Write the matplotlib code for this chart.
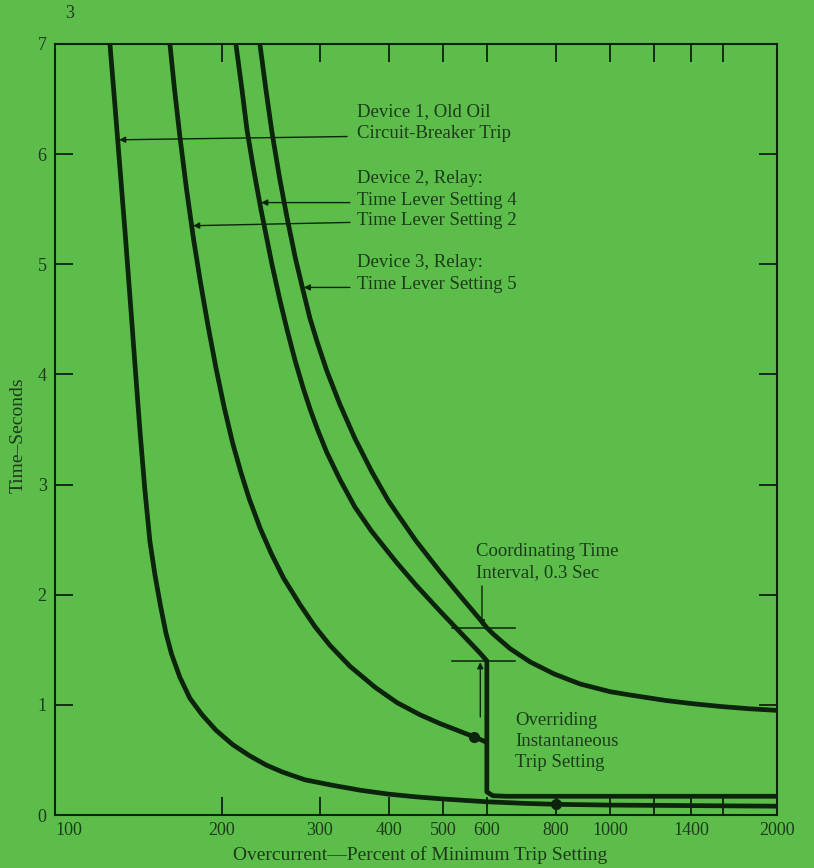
import numpy as np
import matplotlib
matplotlib.use("Agg")
import matplotlib.pyplot as plt
from matplotlib.ticker import FixedLocator, FixedFormatter, NullLocator

# ---- data: overcurrent (% of minimum trip setting) vs. operating time (s) ----
# Device 1, old oil circuit-breaker trip
dev1_current = [125.6, 128.2, 130.9, 133.7, 136.5, 139.3, 142.2, 145.2, 148.3, 151.4,
                154.9, 158.5, 162.2, 167.9, 175.0, 184.1, 195.0, 208.9, 223.9, 239.9,
                257.0, 281.8, 316.2, 354.8, 398.1, 446.7, 501.2, 600, 707.9, 800,
                1000, 1413, 2000]
dev1_time = [7.0, 6.45, 5.88, 5.30, 4.70, 4.10, 3.50, 2.95, 2.48, 2.18,
             1.90, 1.65, 1.46, 1.25, 1.06, 0.91, 0.77, 0.64, 0.54, 0.455,
             0.39, 0.32, 0.27, 0.225, 0.19, 0.165, 0.145, 0.12, 0.105, 0.097,
             0.09, 0.085, 0.08]

# Device 2 relay, time lever setting 2 (ends on the instantaneous trip line)
tls2_current = [161.1, 164.1, 167.9, 172.6, 177.8, 182.8, 188.4, 195.0, 201.8, 208.9,
                216.3, 223.9, 234.4, 245.5, 258.2, 276.4, 294.1, 313.0, 340.1, 377.3,
                413.4, 454.8, 494.0, 530.2, 568.8, 600]
tls2_time = [7.0, 6.60, 6.16, 5.68, 5.22, 4.84, 4.46, 4.06, 3.70, 3.38,
             3.11, 2.87, 2.60, 2.37, 2.15, 1.91, 1.71, 1.54, 1.35, 1.16,
             1.02, 0.91, 0.83, 0.77, 0.71, 0.66]

# Device 2 relay, time lever setting 4 (with overriding instantaneous trip at 600 %)
tls4_current = [211.8, 217.3, 221.8, 228.0, 235.0, 246.0, 254.1, 261.8, 271.0, 279.9,
                288.4, 297.2, 309.0, 325.8, 346.7, 371.5, 398.1, 413.0, 446.7, 494.3,
                537.0, 583.4, 600, 600, 615, 650, 2000]
tls4_time = [7.0, 6.58, 6.22, 5.86, 5.50, 5.00, 4.68, 4.41, 4.12, 3.88,
             3.68, 3.50, 3.29, 3.05, 2.80, 2.58, 2.39, 2.29, 2.09, 1.85,
             1.66, 1.47, 1.40, 0.21, 0.175, 0.17, 0.17]

# Device 3 relay, time lever setting 5
dev3_current = [234, 240, 246, 254, 262, 271, 280, 288, 297, 309, 326, 347, 372, 398,
                413, 447, 494, 537, 588, 600, 617, 661, 718, 794, 883, 1000, 1086,
                1259, 1413, 1585, 1778, 2000]
dev3_time = [7.0, 6.58, 6.20, 5.78, 5.42, 5.06, 4.76, 4.51, 4.29, 4.03, 3.73, 3.42,
             3.12, 2.86, 2.74, 2.49, 2.21, 1.99, 1.755, 1.70, 1.64, 1.51, 1.39,
             1.28, 1.19, 1.12, 1.09, 1.04, 1.01, 0.985, 0.965, 0.95]

instantaneous_trip = 600          # overriding instantaneous trip setting, %
coord_interval = 0.3              # coordinating time interval, s
dot_tls2 = (568.8, 0.71)
dot_dev1 = (800, 0.097)

x_tick_pos = [100, 200, 300, 400, 500, 600, 800, 1000, 1200, 1400, 1600, 2000]
x_tick_lab = ["100", "200", "300", "400", "500", "600", "800", "1000", "", "1400", "", "2000"]
y_ticks = [0, 1, 2, 3, 4, 5, 6, 7]

# ---- styling ----
BG = "#5dbd4b"
INK = "#0c230c"
TXT = "#1b3c19"
plt.rcParams["font.family"] = ["Liberation Serif", "DejaVu Serif"]

W, H = 814, 868
fig = plt.figure(figsize=(W / 100, H / 100), dpi=100)
fig.patch.set_facecolor(BG)
L, R, T, B = 55, 777, 44, 815
ax = fig.add_axes([L / W, 1 - B / H, (R - L) / W, (B - T) / H])
ax.set_facecolor(BG)
ax.set_xscale("log")
ax.set_xlim(100, 2000)
ax.set_ylim(0, 7)

for s in ax.spines.values():
    s.set_color(INK)
    s.set_linewidth(1.5)

ax.xaxis.set_major_locator(FixedLocator(x_tick_pos))
ax.xaxis.set_major_formatter(FixedFormatter(x_tick_lab))
ax.xaxis.set_minor_locator(NullLocator())
ax.set_yticks(y_ticks)
ax.set_yticklabels([str(v) for v in y_ticks])
ax.tick_params(which="both", direction="in", length=13, width=1.3, color=INK,
               top=True, right=True, labelcolor=TXT, labelsize=13)
ax.tick_params(axis="x", pad=5)
ax.tick_params(axis="y", pad=6)
# the first current label sits just right of the corner
ax.get_xticklabels()[0].set_horizontalalignment("left")

# ---- curves ----
lw = 3.4
curve_kw = dict(color=INK, lw=lw, solid_joinstyle="round", solid_capstyle="butt", zorder=3)
ax.plot(dev1_current, dev1_time, **curve_kw)
ax.plot(tls2_current, tls2_time, **curve_kw)
ax.plot(tls4_current, tls4_time, **curve_kw)
ax.plot(dev3_current, dev3_time, **curve_kw)
ax.plot(*dot_tls2, "o", color=INK, ms=7, zorder=4)
ax.plot(*dot_dev1, "o", color=INK, ms=7, zorder=4)


def x_on_curve(cur, tim, y):
    """Current at which the inverse-time part of a curve reaches time y."""
    c = np.log10(np.asarray(cur, float))
    t = np.asarray(tim, float)
    keep = t >= y - 1.0
    c, t = c[keep][:12], t[keep][:12]
    order = np.argsort(t)
    return 10 ** np.interp(y, t[order], c[order])


arrow_kw = dict(arrowstyle="-|>", color=INK, lw=1.0, mutation_scale=9,
                shrinkA=0, shrinkB=1)
label_x = 350
fs = 13.5

# Labels for each curve
ax.text(label_x, 6.39, "Device 1, Old Oil", fontsize=fs, color=TXT, va="center")
ax.text(label_x, 6.19, "Circuit-Breaker Trip", fontsize=fs, color=TXT, va="center")
ax.annotate("", xy=(x_on_curve(dev1_current, dev1_time, 6.13), 6.13),
            xytext=(336, 6.16), arrowprops=arrow_kw)

ax.text(label_x, 5.78, "Device 2, Relay:", fontsize=fs, color=TXT, va="center")
ax.text(label_x, 5.58, "Time Lever Setting 4", fontsize=fs, color=TXT, va="center")
ax.annotate("", xy=(x_on_curve(tls4_current, tls4_time, 5.56), 5.56),
            xytext=(340, 5.56), arrowprops=arrow_kw)
ax.text(label_x, 5.40, "Time Lever Setting 2", fontsize=fs, color=TXT, va="center")
ax.annotate("", xy=(x_on_curve(tls2_current, tls2_time, 5.35), 5.35),
            xytext=(340, 5.38), arrowprops=arrow_kw)

ax.text(label_x, 5.02, "Device 3, Relay:", fontsize=fs, color=TXT, va="center")
ax.text(label_x, 4.82, "Time Lever Setting 5", fontsize=fs, color=TXT, va="center")
ax.annotate("", xy=(x_on_curve(dev3_current, dev3_time, 4.79), 4.79),
            xytext=(340, 4.79), arrowprops=arrow_kw)

# Coordinating time interval between the relays at the instantaneous setting
t_upper = dev3_time[dev3_current.index(instantaneous_trip)]
t_lower = t_upper - coord_interval
ax.plot([519, 674], [t_upper, t_upper], color=INK, lw=1.1, zorder=2)
ax.plot([519, 674], [t_lower, t_lower], color=INK, lw=1.1, zorder=2)
ax.annotate("", xy=(588, t_upper), xytext=(588, 2.08), arrowprops=arrow_kw)
ax.annotate("", xy=(584, t_lower), xytext=(584, 0.89), arrowprops=arrow_kw)
ax.text(574, 2.39, "Coordinating Time", fontsize=fs, color=TXT, va="center")
ax.text(574, 2.20, "Interval, 0.3 Sec", fontsize=fs, color=TXT, va="center")

ax.text(674, 0.86, "Overriding", fontsize=fs, color=TXT, va="center")
ax.text(674, 0.67, "Instantaneous", fontsize=fs, color=TXT, va="center")
ax.text(674, 0.48, "Trip Setting", fontsize=fs, color=TXT, va="center")

# Axis titles and page number
fig.text(420 / W, 1 - 855 / H, "Overcurrent—Percent of Minimum Trip Setting",
         fontsize=14, color=TXT, ha="center", va="center")
fig.text(18 / W, 1 - 435 / H, "Time–Seconds", fontsize=14, color=TXT,
         ha="center", va="center", rotation=90)
fig.text(70 / W, 1 - 14 / H, "3", fontsize=13, color=TXT, ha="center", va="center")

fig.savefig("out.png", dpi=100, facecolor=BG)
